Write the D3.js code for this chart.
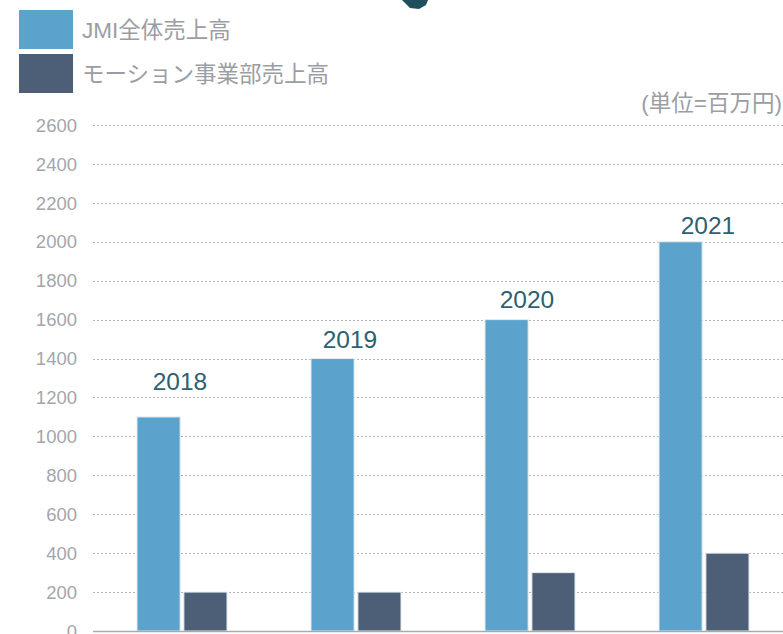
<!DOCTYPE html>
<html lang="ja">
  <head>
    <meta charset="UTF-8" />
    <title>JMI売上高</title>
    <script src="https://d3js.org/d3.v7.min.js"></script>
    <style>
      body {
        margin: 0;
        background: #fff;
      }
      text {
        font-family: "Liberation Sans", "Noto Sans CJK JP", sans-serif;
      }
      .grid line {
        stroke: #b4b7bb;
        stroke-dasharray: 2, 2;
      }
      .tick-label {
        fill: #a3a6ab;
        font-size: 18.5px;
      }
      .legend-label {
        fill: #9a9ea4;
        font-size: 22.5px;
      }
      .year-label {
        fill: #2d6073;
        font-size: 24.5px;
      }
    </style>
  </head>
  <body>
    <svg width="783" height="634"></svg>
    <script>
      // data
      var years = ["2018", "2019", "2020", "2021"];
      var totalSales = [1100, 1400, 1600, 2000];
      var motionSales = [200, 200, 300, 400];
      var seriesNames = ["JMI全体売上高", "モーション事業部売上高"];
      var seriesColors = ["#5ba3cd", "#4d5f76"];
      var yTicks = [0, 200, 400, 600, 800, 1000, 1200, 1400, 1600, 1800, 2000, 2200, 2400, 2600];
      var unitLabel = "(単位=百万円)";

      // where each year label sits relative to its group (px)
      var labelGap = [27, 11, 12, 8];
      var labelShift = [0, -4, -1, 6];

      var svg = d3.select("svg");
      var plotLeft = 93,
        plotRight = 789,
        plotTop = 125,
        plotBottom = 631;

      var x = d3.scaleBand().domain(years).range([plotLeft, plotRight]).padding(0);
      var xSub = d3
        .scaleBand()
        .domain([0, 1])
        .range([44, 134])
        .paddingInner(0.08);
      var y = d3.scaleLinear().domain([0, 2600]).range([plotBottom, plotTop]);

      // decoration cut off at the top
      svg
        .append("path")
        .attr("d", "M402,0 L428,0 L426,5 L419,9 L410,8 Z")
        .attr("fill", "#1f4e5c");

      // gridlines
      svg
        .append("g")
        .attr("class", "grid")
        .selectAll("line")
        .data(yTicks.filter((d) => d > 0))
        .enter()
        .append("line")
        .attr("x1", plotLeft)
        .attr("x2", 783)
        .attr("y1", (d) => Math.round(y(d)) + 0.5)
        .attr("y2", (d) => Math.round(y(d)) + 0.5);

      // y tick labels
      svg
        .append("g")
        .selectAll("text")
        .data(yTicks)
        .enter()
        .append("text")
        .attr("class", "tick-label")
        .attr("x", 77)
        .attr("y", (d) => y(d))
        .attr("dy", "0.36em")
        .attr("text-anchor", "end")
        .text((d) => d);

      // bars
      var groups = svg
        .append("g")
        .selectAll("g")
        .data(years)
        .enter()
        .append("g")
        .attr("transform", (d) => "translate(" + x(d) + ",0)");

      groups
        .selectAll("rect")
        .data((d, i) => [totalSales[i], motionSales[i]])
        .enter()
        .append("rect")
        .attr("x", (d, j) => xSub(j))
        .attr("width", xSub.bandwidth())
        .attr("y", (d) => y(d))
        .attr("height", (d) => plotBottom - y(d))
        .attr("fill", (d, j) => seriesColors[j])
        .attr("stroke", "#e6ecf0")
        .attr("stroke-width", 1);

      // year labels
      groups
        .append("text")
        .attr("class", "year-label")
        .attr("x", (d, i) => x.bandwidth() / 2 + labelShift[i])
        .attr("y", (d, i) => y(totalSales[i]) - labelGap[i])
        .attr("text-anchor", "middle")
        .text((d) => d);

      // baseline
      svg
        .append("line")
        .attr("x1", plotLeft)
        .attr("x2", 783)
        .attr("y1", plotBottom + 0.5)
        .attr("y2", plotBottom + 0.5)
        .attr("stroke", "#a7aaad")
        .attr("stroke-width", 1.5);

      // legend
      var legend = svg
        .append("g")
        .selectAll("g")
        .data(seriesNames)
        .enter()
        .append("g")
        .attr("transform", (d, i) => "translate(19," + (10 + i * 44) + ")");
      legend
        .append("rect")
        .attr("width", 54)
        .attr("height", 39)
        .attr("fill", (d, i) => seriesColors[i]);
      legend
        .append("text")
        .attr("class", "legend-label")
        .attr("x", 63)
        .attr("y", 20)
        .attr("dy", "0.35em")
        .text((d) => d);

      svg
        .append("text")
        .attr("class", "legend-label")
        .attr("x", 782)
        .attr("y", 103)
        .attr("dy", "0.35em")
        .attr("text-anchor", "end")
        .text(unitLabel);
    </script>
  </body>
</html>
